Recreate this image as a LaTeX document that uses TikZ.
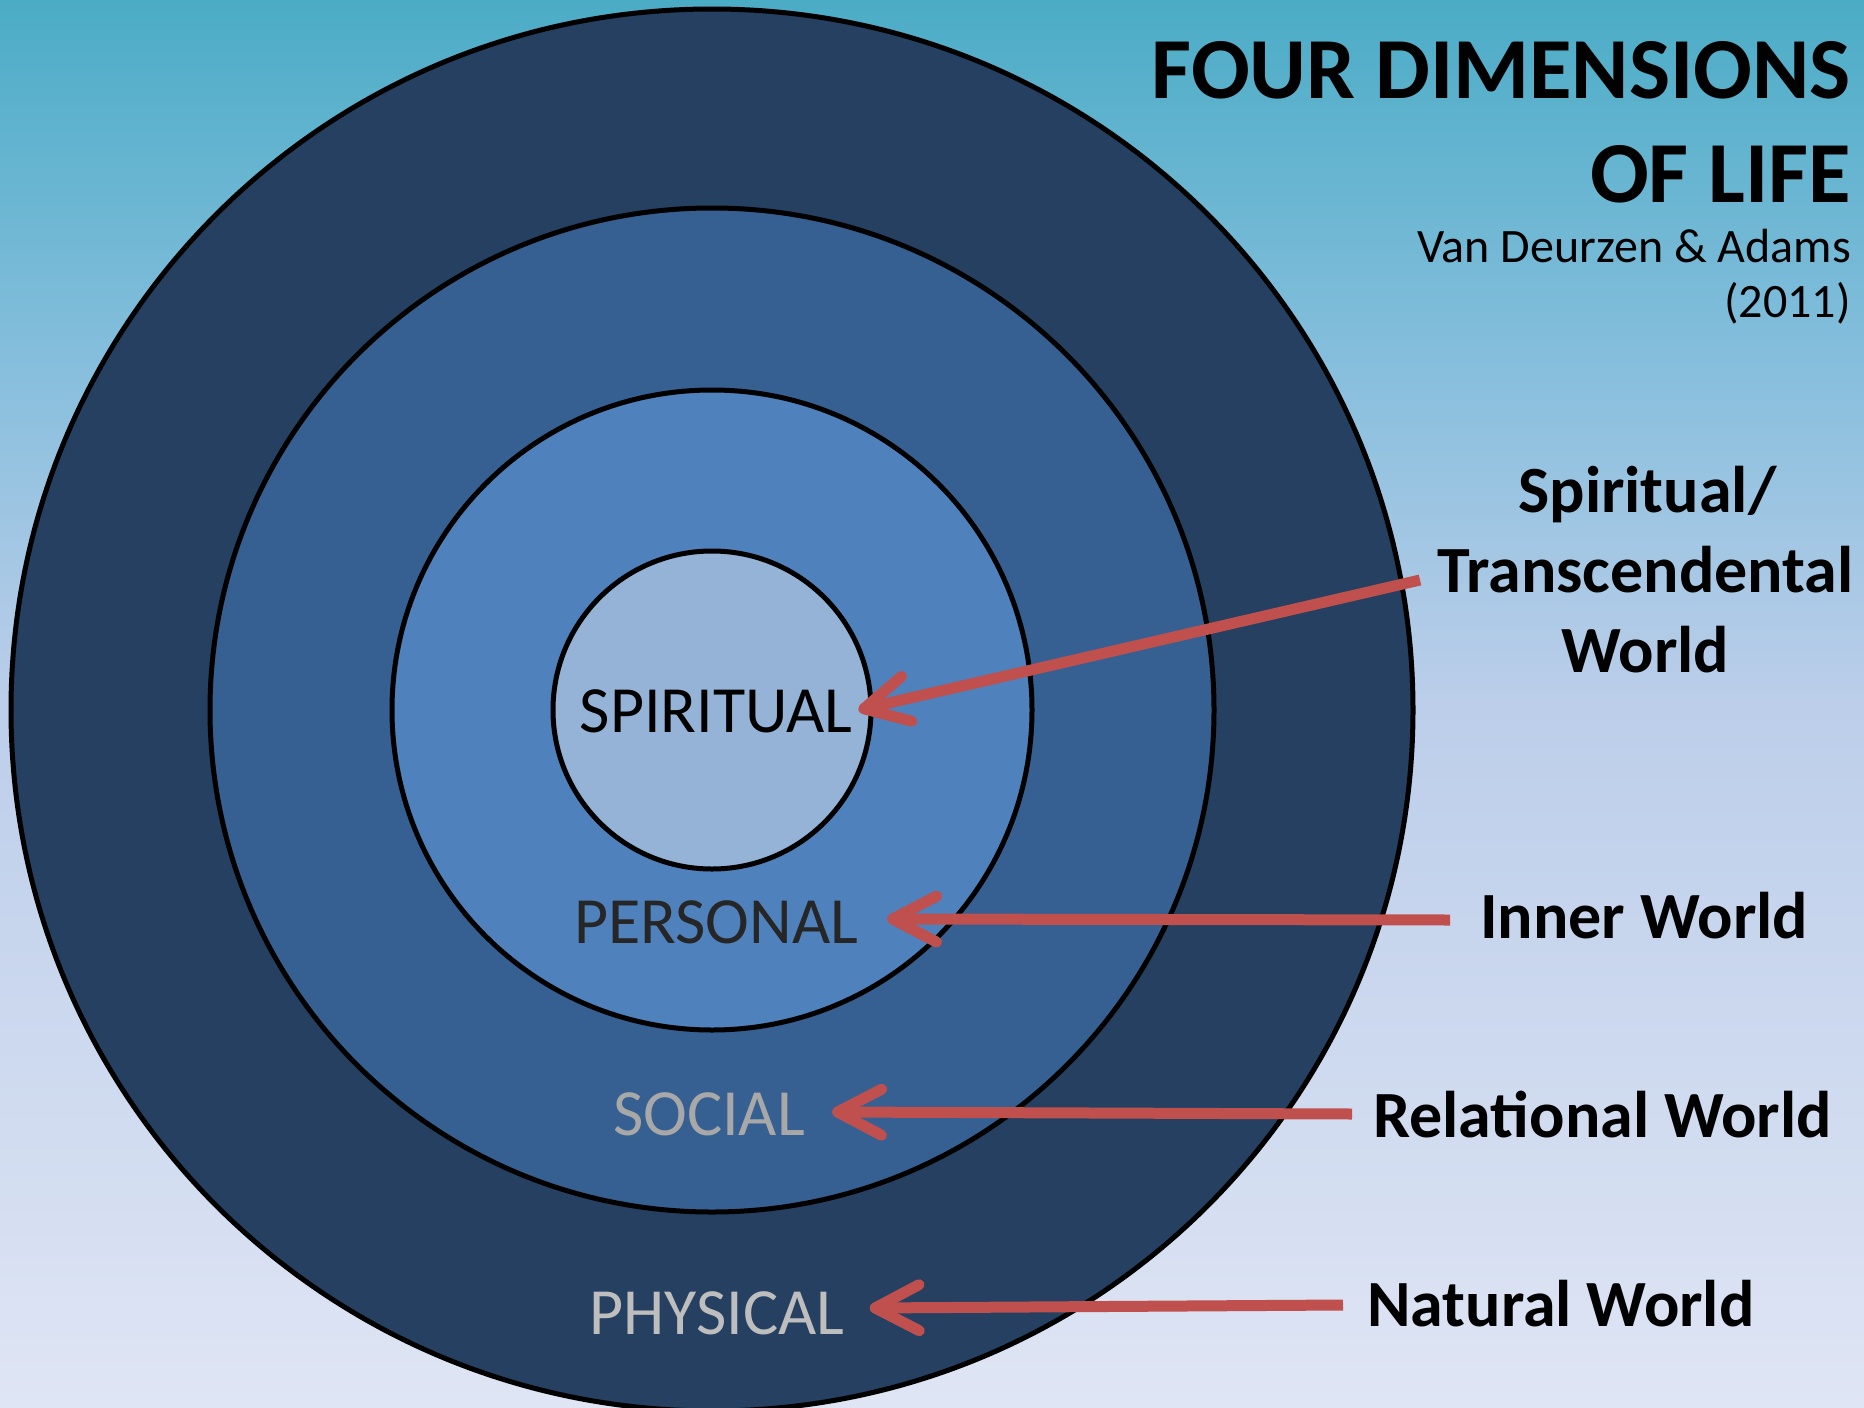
\documentclass[tikz,border=0pt]{standalone}
\usepackage{fontspec}
\setmainfont{Carlito}
\usetikzlibrary{arrows.meta,calc}

% palette
\definecolor{skyTop}{RGB}{75,172,198}
\definecolor{skyUpper}{RGB}{132,190,220}
\definecolor{skyMid}{RGB}{188,206,234}
\definecolor{skyLow}{RGB}{223,229,244}
\definecolor{ringPhysical}{RGB}{37,64,97}
\definecolor{ringSocial}{RGB}{55,96,146}
\definecolor{ringPersonal}{RGB}{79,129,189}
\definecolor{ringSpiritual}{RGB}{149,179,215}
\definecolor{pointerRed}{RGB}{192,80,77}
\definecolor{greySocial}{RGB}{168,168,168}
\definecolor{greyPhysical}{RGB}{190,190,190}
\definecolor{inkDark}{RGB}{38,38,38}

% background fade; TikZ fits the 25bp--75bp band to the filled area
\pgfdeclareverticalshading{skyfade}{100bp}{%
  color(0bp)=(skyLow); color(25bp)=(skyLow); color(50bp)=(skyMid);
  color(62.5bp)=(skyUpper); color(75bp)=(skyTop); color(100bp)=(skyTop)}

\begin{document}
\begin{tikzpicture}[x=1pt,y=-1pt,
  ring/.style={circle, draw=black, line width=5pt, inner sep=0pt},
  dimlabel/.style={anchor=base, inner sep=0pt, font=\fontsize{66}{66}\selectfont},
  worldlabel/.style={inner sep=0pt, font=\fontsize{66}{80}\selectfont\bfseries},
  pointer/.style={draw=pointerRed, line width=11pt,
    -{Straight Barb[length=44pt,width=46pt,round]},
    preaction={draw=black, draw opacity=0.14, transform canvas={shift={(1.5pt,-2.5pt)}}}}
]
\useasboundingbox (0,0) rectangle (1864,1408);
\shade[shading=skyfade] (0,0) rectangle (1864,1408);

% nested dimension circles
\node[ring, fill=ringPhysical,  minimum size=1402pt] (cPhysical)  at (712,710) {};
\node[ring, fill=ringSocial,    minimum size=1004pt] (cSocial)    at (712,710) {};
\node[ring, fill=ringPersonal,  minimum size=640pt]  (cPersonal)  at (712,710) {};
\node[ring, fill=ringSpiritual, minimum size=318pt]  (cSpiritual) at (712,710) {};

% dimension names
\node[dimlabel, text=black]        (tSpiritual) at (716,732)  {SPIRITUAL};
\node[dimlabel, text=inkDark]      (tPersonal)  at (716,943)  {PERSONAL};
\node[dimlabel, text=greySocial]   (tSocial)    at (709,1135) {SOCIAL};
\node[dimlabel, text=greyPhysical] (tPhysical)  at (717,1334) {PHYSICAL};

% title block
\node[anchor=base east, inner sep=0pt, font=\fontsize{87}{87}\selectfont\bfseries] (title1) at (1851,98) {FOUR DIMENSIONS};
\node[anchor=base east, inner sep=0pt, font=\fontsize{87}{87}\selectfont\bfseries] (title2) at (1851,202) {OF LIFE};
\node[anchor=base east, inner sep=0pt, font=\fontsize{48}{48}\selectfont] (cite1) at (1851,262) {Van Deurzen \& Adams};
\node[anchor=base east, inner sep=0pt, font=\fontsize{48}{48}\selectfont] (cite2) at (1851,317) {(2011)};

% world names
\node[worldlabel, anchor=base west] (wTrans) at (1437,592) {Transcendental};
\node[worldlabel, anchor=base] (wSpirit) at ($(wTrans.base)+(2,-80)$) {Spiritual/};
\node[worldlabel, anchor=base] (wWorld)  at ($(wTrans.base)+(0,80)$) {World};
\node[worldlabel, anchor=base west] (wInner)  at (1480,938)  {Inner World};
\node[worldlabel, anchor=base west] (wRel)    at (1373,1137) {Relational World};
\node[worldlabel, anchor=base west] (wNat)    at (1367,1326) {Natural World};

% pointers from each world to its dimension
\draw[pointer] ($(wTrans.base west)+(-17,-12)$) -- ($(tSpiritual.base east)+(6,-22)$);
\draw[pointer] ($(wInner.base west)+(-30,-18)$) -- ($(tPersonal.base east)+(29,-24)$);
\draw[pointer] ($(wRel.base west)+(-21,-23)$)   -- ($(tSocial.base east)+(27,-23)$);
\draw[pointer] ($(wNat.base west)+(-24,-21)$)   -- ($(tPhysical.base east)+(25,-26)$);
\end{tikzpicture}
\end{document}
